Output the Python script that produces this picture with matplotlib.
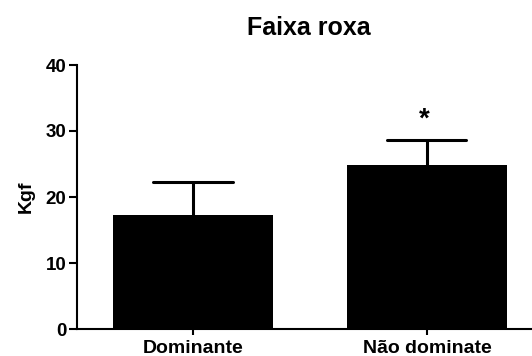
import matplotlib
matplotlib.use("Agg")
import matplotlib.pyplot as plt

# Grip strength by hand, purple belt group
categories = ["Dominante", "Não dominate"]
means = [17.3, 24.8]
errors = [4.9, 3.8]
significance = ["", "*"]
y_ticks = [0, 10, 20, 30, 40]

plt.rcParams["font.family"] = ["Liberation Sans", "DejaVu Sans"]
plt.rcParams["font.weight"] = "bold"

fig = plt.figure(figsize=(5.32, 3.56), dpi=100)
ax = fig.add_axes([77 / 532, 27 / 356, 1 - 77 / 532, 264 / 356])

x = list(range(len(categories)))
ax.bar(x, means, width=0.68, color="black", linewidth=0, zorder=2)

# upper-only error bars: stem from bar top plus a single cap
tops = [m + e for m, e in zip(means, errors)]
ax.vlines(x, means, tops, colors="black", linewidth=2.2, zorder=1)
ax.hlines(tops, [xi - 0.169 for xi in x], [xi + 0.169 for xi in x],
          colors="black", linewidth=2.2, capstyle="round", zorder=1)

for xi, t, s in zip(x, tops, significance):
    if s:
        ax.text(xi - 0.01, t + 1.2, s, ha="center", va="bottom",
                fontsize=20, fontweight="bold")

ax.set_xlim(-0.496, 1.449)
ax.set_ylim(0, 40)
ax.set_yticks(y_ticks)
ax.set_xticks(x)
ax.set_xticklabels(categories, fontsize=14, fontweight="bold")
ax.tick_params(axis="y", labelsize=13.5, width=1.5, length=6, pad=1.5)
ax.tick_params(axis="x", width=1.5, length=4, pad=4)
for lab in ax.get_yticklabels():
    lab.set_fontweight("bold")

for side in ["top", "right"]:
    ax.spines[side].set_visible(False)
for side in ["left", "bottom"]:
    ax.spines[side].set_linewidth(1.5)

ax.set_ylabel("Kgf", fontsize=14, fontweight="bold", labelpad=8)
fig.text(309 / 532, 1 - 35 / 356, "Faixa roxa", ha="center", va="baseline",
         fontsize=18, fontweight="bold")

fig.savefig("out.png", dpi=100)
